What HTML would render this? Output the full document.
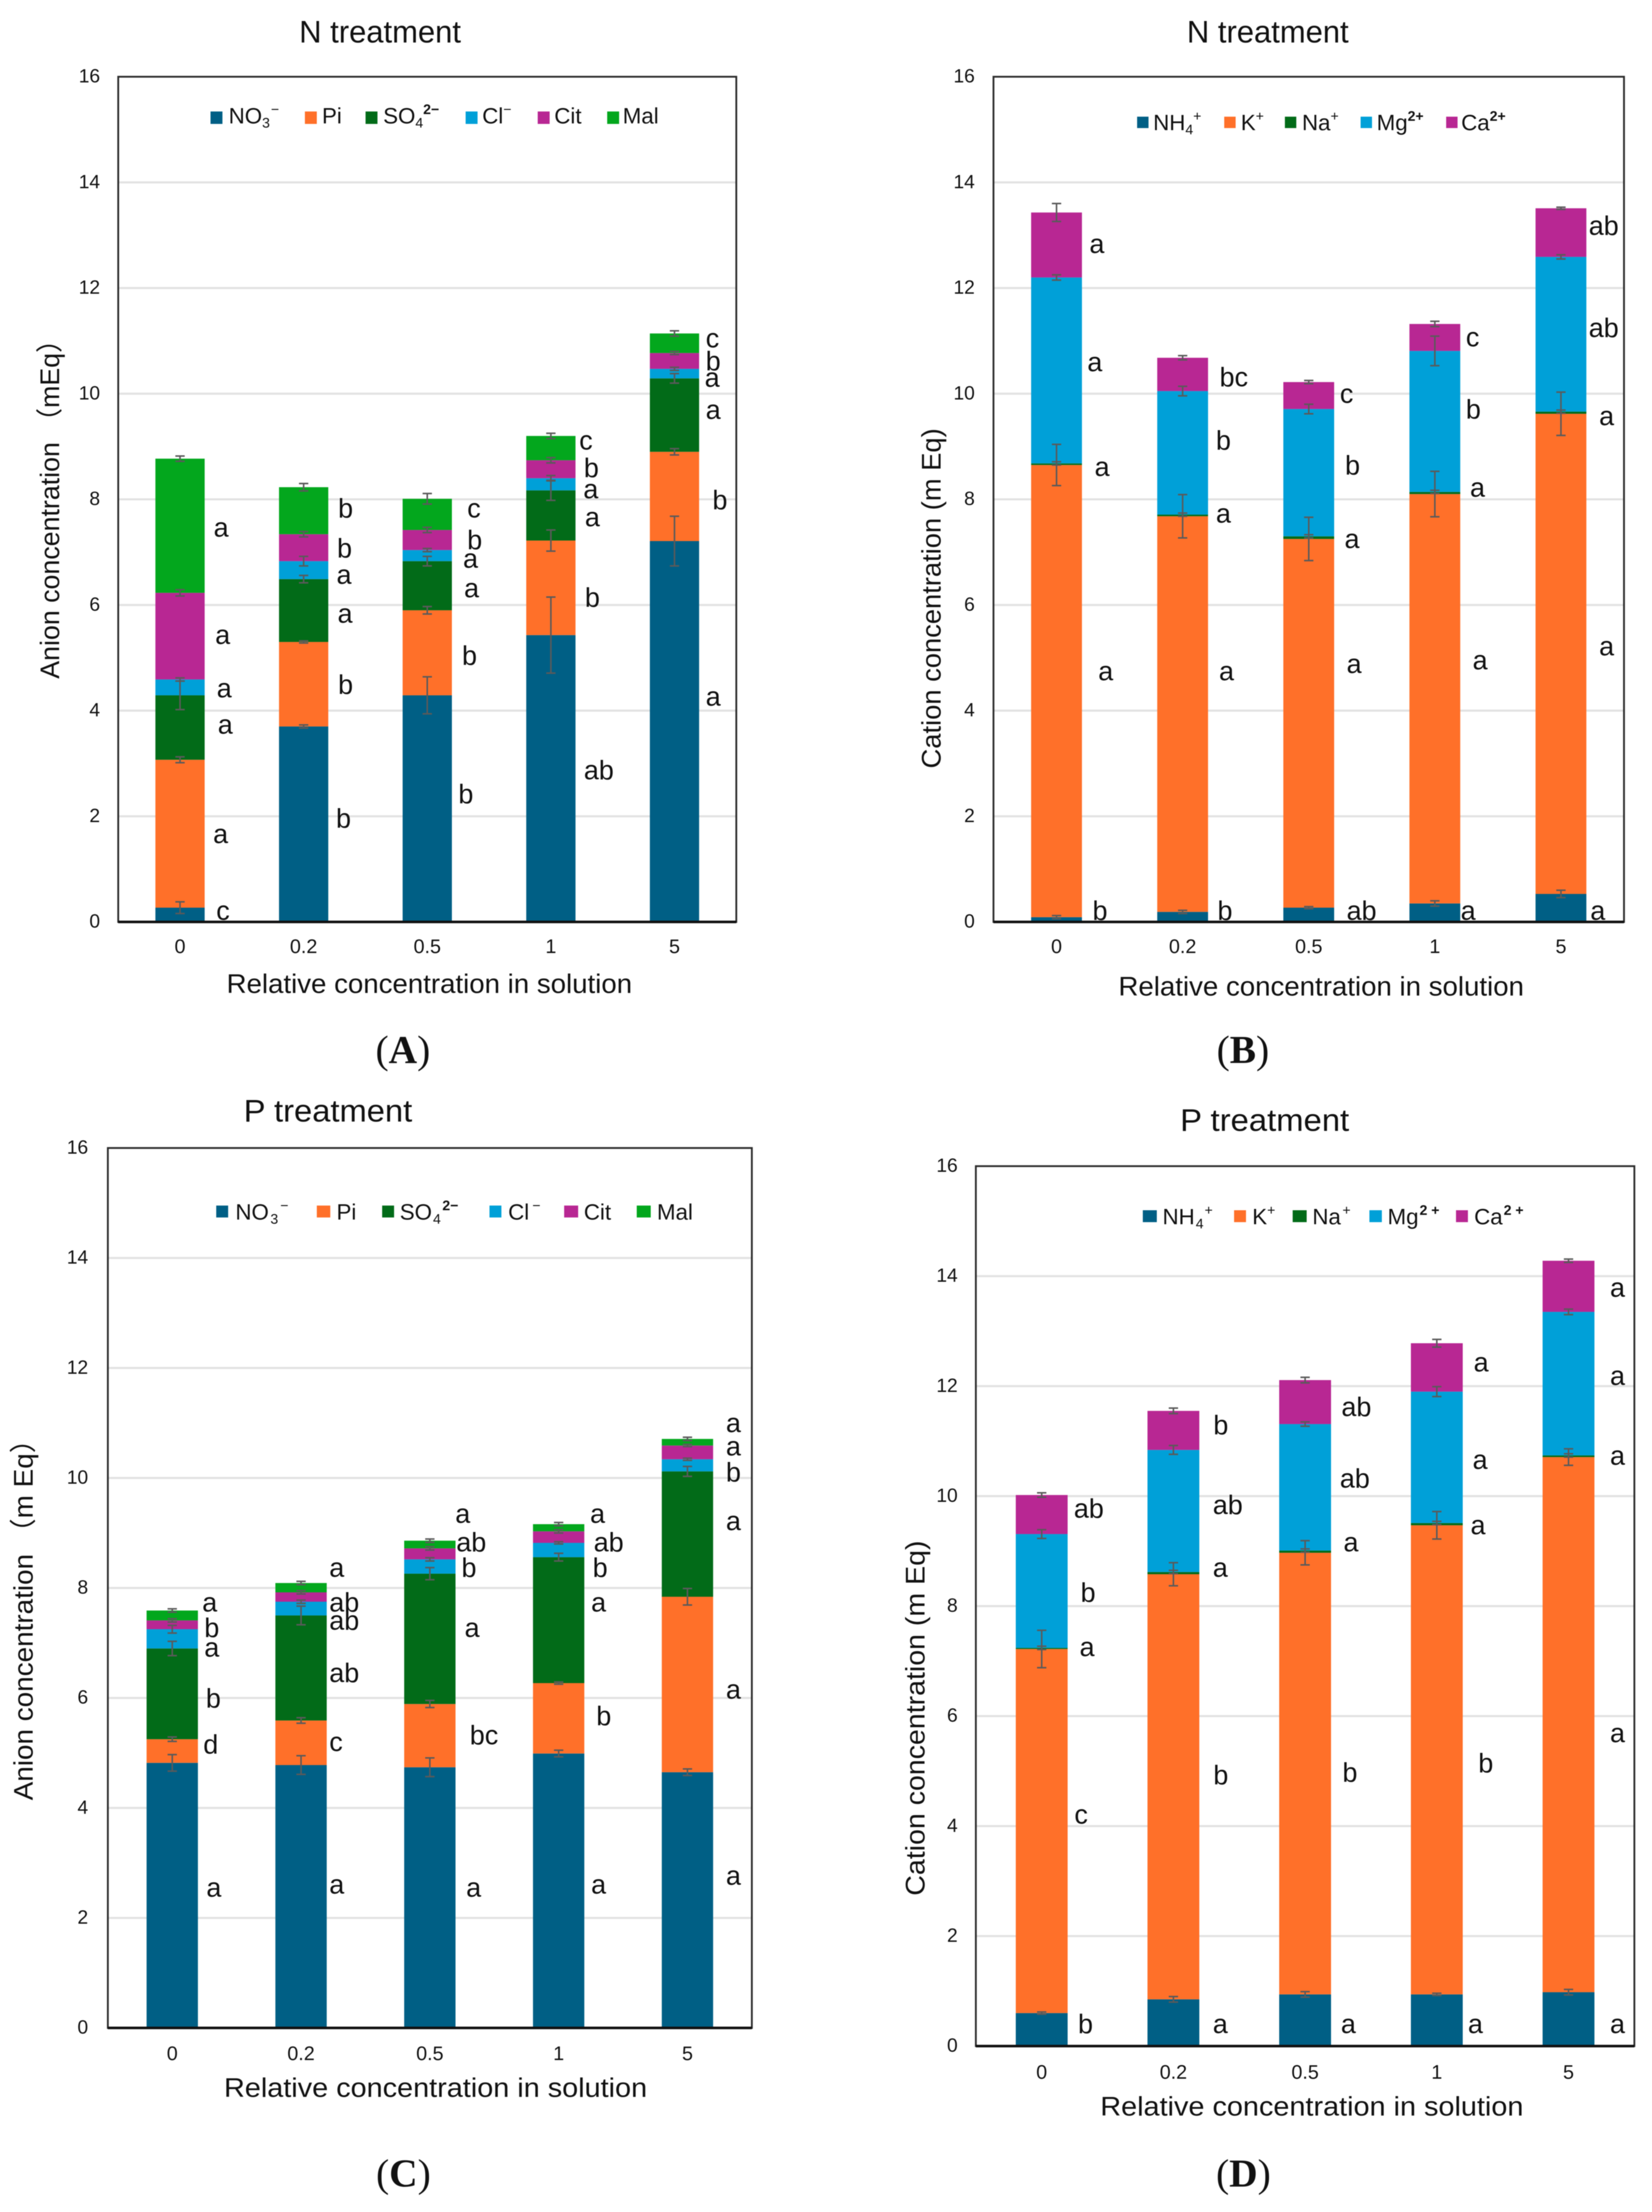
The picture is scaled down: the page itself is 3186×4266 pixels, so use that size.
<!DOCTYPE html>
<html lang="en">
<head>
<meta charset="utf-8">
<title>Anion and cation concentration under N and P treatments</title>
<style>
  html, body { margin: 0; padding: 0; background: #fff; }
  svg { display: block; filter: blur(0.7px); }
  text { font-family: "Liberation Sans", "Noto Sans CJK SC", sans-serif; fill: #111; }
  .title { font-size: 60px; }
  .axis-title { font-size: 52px; }
  .legend-text { font-size: 43px; }
  .legend-text tspan { font-size: 27px; }
  .sig { font-size: 52px; }
  .panel-label { font-family: "Liberation Serif", serif; font-size: 76px; text-anchor: middle; }
  .panel-label tspan { font-weight: bold; }
</style>
</head>
<body>
<svg id="figure" xmlns="http://www.w3.org/2000/svg" width="3186" height="4266" viewBox="0 0 3186 4266">
  <rect width="3186" height="4266" fill="#ffffff"/>
  <g id="plots"></g>

  <!-- Titles -->
  <text class="title" x="577" y="82" textLength="312" lengthAdjust="spacingAndGlyphs">N treatment</text>
  <text class="title" x="2289" y="82" textLength="312" lengthAdjust="spacingAndGlyphs">N treatment</text>
  <text class="title" x="470" y="2163" textLength="325" lengthAdjust="spacingAndGlyphs">P treatment</text>
  <text class="title" x="2276" y="2181" textLength="326" lengthAdjust="spacingAndGlyphs">P treatment</text>

  <!-- Axis titles -->
  <text class="axis-title" transform="translate(114,1309) rotate(-90)" textLength="680" lengthAdjust="spacingAndGlyphs">Anion concentration （mEq）</text>
  <text class="axis-title" transform="translate(1814,1482) rotate(-90)" textLength="656" lengthAdjust="spacingAndGlyphs">Cation concentration (m Eq)</text>
  <text class="axis-title" transform="translate(63,3472) rotate(-90)" textLength="723" lengthAdjust="spacingAndGlyphs">Anion concentration （m Eq）</text>
  <text class="axis-title" transform="translate(1783,3656) rotate(-90)" textLength="685" lengthAdjust="spacingAndGlyphs">Cation concentration (m Eq)</text>
  <text class="axis-title" x="437" y="1915" textLength="782" lengthAdjust="spacingAndGlyphs">Relative concentration in solution</text>
  <text class="axis-title" x="2157" y="1920" textLength="782" lengthAdjust="spacingAndGlyphs">Relative concentration in solution</text>
  <text class="axis-title" x="432" y="4044" textLength="816" lengthAdjust="spacingAndGlyphs">Relative concentration in solution</text>
  <text class="axis-title" x="2122" y="4080" textLength="816" lengthAdjust="spacingAndGlyphs">Relative concentration in solution</text>

  <!-- Panel labels -->
  <text class="panel-label" x="777" y="2050">(<tspan>A</tspan>)</text>
  <text class="panel-label" x="2397" y="2050">(<tspan>B</tspan>)</text>
  <text class="panel-label" x="778" y="4217">(<tspan>C</tspan>)</text>
  <text class="panel-label" x="2398" y="4217">(<tspan>D</tspan>)</text>

  <!-- Legend A -->
  <g>
    <rect x="406" y="215" width="23" height="24" fill="#005F85"/>
    <text class="legend-text" x="441" y="238">NO<tspan dy="8">3</tspan><tspan dy="-26" dx="2">−</tspan></text>
    <rect x="588" y="215" width="23" height="24" fill="#FF7029"/>
    <text class="legend-text" x="621" y="238">Pi</text>
    <rect x="705" y="215" width="23" height="24" fill="#026B18"/>
    <text class="legend-text" x="739" y="238">SO<tspan dy="8">4</tspan><tspan dy="-26" font-weight="bold">2−</tspan></text>
    <rect x="898" y="215" width="23" height="24" fill="#00A0D8"/>
    <text class="legend-text" x="930" y="238">Cl<tspan dy="-18">−</tspan></text>
    <rect x="1037" y="215" width="23" height="24" fill="#B82793"/>
    <text class="legend-text" x="1069" y="238">Cit</text>
    <rect x="1171" y="215" width="23" height="24" fill="#03A71D"/>
    <text class="legend-text" x="1201" y="238">Mal</text>
  </g>

  <!-- Legend B -->
  <g>
    <rect x="2193" y="225" width="22" height="22" fill="#005F85"/>
    <text class="legend-text" x="2224" y="251">NH<tspan dy="8">4</tspan><tspan dy="-26">+</tspan></text>
    <rect x="2361" y="225" width="22" height="22" fill="#FF7029"/>
    <text class="legend-text" x="2393" y="251">K<tspan dy="-18">+</tspan></text>
    <rect x="2478" y="225" width="22" height="22" fill="#026B18"/>
    <text class="legend-text" x="2511" y="251">Na<tspan dy="-18">+</tspan></text>
    <rect x="2624" y="225" width="22" height="22" fill="#00A0D8"/>
    <text class="legend-text" x="2655" y="251">Mg<tspan dy="-18" font-weight="bold">2+</tspan></text>
    <rect x="2789" y="225" width="22" height="22" fill="#B82793"/>
    <text class="legend-text" x="2818" y="251">Ca<tspan dy="-18" font-weight="bold">2+</tspan></text>
  </g>

  <!-- Legend C -->
  <g>
    <rect x="417" y="2325" width="23" height="23" fill="#005F85"/>
    <text class="legend-text" x="454" y="2352">NO<tspan dy="8" dx="3">3</tspan><tspan dy="-26" dx="4">−</tspan></text>
    <rect x="611" y="2325" width="26" height="23" fill="#FF7029"/>
    <text class="legend-text" x="649" y="2352">Pi</text>
    <rect x="737" y="2325" width="23" height="23" fill="#026B18"/>
    <text class="legend-text" x="771" y="2352">SO<tspan dy="8" dx="2">4</tspan><tspan dy="-26" dx="3" font-weight="bold">2−</tspan></text>
    <rect x="944" y="2325" width="23" height="23" fill="#00A0D8"/>
    <text class="legend-text" x="980" y="2352">Cl<tspan dy="-18" dx="6">−</tspan></text>
    <rect x="1088" y="2325" width="27" height="23" fill="#B82793"/>
    <text class="legend-text" x="1126" y="2352">Cit</text>
    <rect x="1228" y="2325" width="27" height="23" fill="#03A71D"/>
    <text class="legend-text" x="1267" y="2352">Mal</text>
  </g>

  <!-- Legend D -->
  <g>
    <rect x="2204" y="2334" width="27" height="23" fill="#005F85"/>
    <text class="legend-text" x="2242" y="2361">NH<tspan dy="8" dx="2">4</tspan><tspan dy="-26" dx="2">+</tspan></text>
    <rect x="2380" y="2334" width="23" height="23" fill="#FF7029"/>
    <text class="legend-text" x="2415" y="2361">K<tspan dy="-18">+</tspan></text>
    <rect x="2493" y="2334" width="27" height="23" fill="#026B18"/>
    <text class="legend-text" x="2531" y="2361">Na<tspan dy="-18" dx="3">+</tspan></text>
    <rect x="2641" y="2334" width="24" height="23" fill="#00A0D8"/>
    <text class="legend-text" x="2676" y="2361">Mg<tspan dy="-18" font-weight="bold" dx="2">2 +</tspan></text>
    <rect x="2808" y="2334" width="23" height="23" fill="#B82793"/>
    <text class="legend-text" x="2843" y="2361">Ca<tspan dy="-18" font-weight="bold" dx="2">2 +</tspan></text>
  </g>

  <!-- Significance letters A -->
  <g>
    <text class="sig" x="417" y="1774">c</text>
    <text class="sig" x="411" y="1626">a</text>
    <text class="sig" x="420" y="1415">a</text>
    <text class="sig" x="418" y="1345">a</text>
    <text class="sig" x="415" y="1242">a</text>
    <text class="sig" x="412" y="1035">a</text>
    <text class="sig" x="648" y="1596">b</text>
    <text class="sig" x="652" y="1338">b</text>
    <text class="sig" x="651" y="1201">a</text>
    <text class="sig" x="649" y="1126">a</text>
    <text class="sig" x="650" y="1075">b</text>
    <text class="sig" x="652" y="998">b</text>
    <text class="sig" x="884" y="1549">b</text>
    <text class="sig" x="891" y="1282">b</text>
    <text class="sig" x="895" y="1152">a</text>
    <text class="sig" x="893" y="1095">a</text>
    <text class="sig" x="901" y="1059">b</text>
    <text class="sig" x="901" y="998">c</text>
    <text class="sig" x="1126" y="1503">ab</text>
    <text class="sig" x="1128" y="1170">b</text>
    <text class="sig" x="1128" y="1015">a</text>
    <text class="sig" x="1125" y="961">a</text>
    <text class="sig" x="1126" y="920">b</text>
    <text class="sig" x="1117" y="867">c</text>
    <text class="sig" x="1361" y="1361">a</text>
    <text class="sig" x="1374" y="982">b</text>
    <text class="sig" x="1361" y="808">a</text>
    <text class="sig" x="1359" y="746">a</text>
    <text class="sig" x="1361" y="714">b</text>
    <text class="sig" x="1361" y="670">c</text>
  </g>

  <!-- Significance letters B -->
  <g>
    <text class="sig" x="2107" y="1774">b</text>
    <text class="sig" x="2118" y="1312">a</text>
    <text class="sig" x="2111" y="918">a</text>
    <text class="sig" x="2097" y="716">a</text>
    <text class="sig" x="2101" y="488">a</text>
    <text class="sig" x="2348" y="1774">b</text>
    <text class="sig" x="2351" y="1312">a</text>
    <text class="sig" x="2345" y="1008">a</text>
    <text class="sig" x="2345" y="867">b</text>
    <text class="sig" x="2352" y="745">bc</text>
    <text class="sig" x="2597" y="1774">ab</text>
    <text class="sig" x="2597" y="1298">a</text>
    <text class="sig" x="2593" y="1057">a</text>
    <text class="sig" x="2594" y="915">b</text>
    <text class="sig" x="2584" y="777">c</text>
    <text class="sig" x="2817" y="1774">a</text>
    <text class="sig" x="2840" y="1291">a</text>
    <text class="sig" x="2835" y="958">a</text>
    <text class="sig" x="2827" y="807">b</text>
    <text class="sig" x="2827" y="668">c</text>
    <text class="sig" x="3067" y="1774">a</text>
    <text class="sig" x="3084" y="1264">a</text>
    <text class="sig" x="3084" y="820">a</text>
    <text class="sig" x="3064" y="650">ab</text>
    <text class="sig" x="3064" y="453">ab</text>
  </g>

  <!-- Significance letters C -->
  <g>
    <text class="sig" x="398" y="3658">a</text>
    <text class="sig" x="392" y="3382">d</text>
    <text class="sig" x="397" y="3293">b</text>
    <text class="sig" x="394" y="3195">a</text>
    <text class="sig" x="394" y="3157">b</text>
    <text class="sig" x="390" y="3108">a</text>
    <text class="sig" x="635" y="3652">a</text>
    <text class="sig" x="635" y="3377">c</text>
    <text class="sig" x="635" y="3244">ab</text>
    <text class="sig" x="635" y="3143">ab</text>
    <text class="sig" x="635" y="3108">ab</text>
    <text class="sig" x="635" y="3041">a</text>
    <text class="sig" x="899" y="3658">a</text>
    <text class="sig" x="906" y="3364">bc</text>
    <text class="sig" x="896" y="3157">a</text>
    <text class="sig" x="890" y="3041">b</text>
    <text class="sig" x="880" y="2992">ab</text>
    <text class="sig" x="878" y="2937">a</text>
    <text class="sig" x="1140" y="3652">a</text>
    <text class="sig" x="1150" y="3327">b</text>
    <text class="sig" x="1140" y="3108">a</text>
    <text class="sig" x="1143" y="3041">b</text>
    <text class="sig" x="1145" y="2992">ab</text>
    <text class="sig" x="1138" y="2937">a</text>
    <text class="sig" x="1400" y="3635">a</text>
    <text class="sig" x="1400" y="3276">a</text>
    <text class="sig" x="1400" y="2951">a</text>
    <text class="sig" x="1400" y="2857">b</text>
    <text class="sig" x="1400" y="2807">a</text>
    <text class="sig" x="1400" y="2762">a</text>
  </g>

  <!-- Significance letters D -->
  <g>
    <text class="sig" x="2079" y="3921">b</text>
    <text class="sig" x="2072" y="3517">c</text>
    <text class="sig" x="2082" y="3194">a</text>
    <text class="sig" x="2084" y="3089">b</text>
    <text class="sig" x="2071" y="2927">ab</text>
    <text class="sig" x="2339" y="3921">a</text>
    <text class="sig" x="2340" y="3441">b</text>
    <text class="sig" x="2339" y="3041">a</text>
    <text class="sig" x="2339" y="2920">ab</text>
    <text class="sig" x="2340" y="2766">b</text>
    <text class="sig" x="2586" y="3921">a</text>
    <text class="sig" x="2589" y="3436">b</text>
    <text class="sig" x="2591" y="2992">a</text>
    <text class="sig" x="2584" y="2869">ab</text>
    <text class="sig" x="2587" y="2731">ab</text>
    <text class="sig" x="2831" y="3921">a</text>
    <text class="sig" x="2851" y="3418">b</text>
    <text class="sig" x="2836" y="2959">a</text>
    <text class="sig" x="2840" y="2833">a</text>
    <text class="sig" x="2842" y="2645">a</text>
    <text class="sig" x="3105" y="3921">a</text>
    <text class="sig" x="3105" y="3360">a</text>
    <text class="sig" x="3105" y="2825">a</text>
    <text class="sig" x="3105" y="2671">a</text>
    <text class="sig" x="3105" y="2501">a</text>
  </g>
</svg>

<script>
// ---- Shared axis data ----
const categories = ['0', '0.2', '0.5', '1', '5'];
const yTickValues = [0, 2, 4, 6, 8, 10, 12, 14, 16];

// ---- Panel A: anions, N treatment (segment heights, mEq) ----
const aNO3 = [0.27, 3.70, 4.29, 5.43, 7.21];
const aPi  = [2.80, 1.60, 1.61, 1.79, 1.69];
const aSO4 = [1.22, 1.19, 0.93, 0.95, 1.39];
const aCl  = [0.30, 0.34, 0.21, 0.23, 0.18];
const aCit = [1.64, 0.51, 0.38, 0.34, 0.30];
const aMal = [2.54, 0.89, 0.59, 0.46, 0.37];
const aNO3Err = [0.11, 0.03, 0.35, 0.72, 0.47];
const aPiErr  = [0.055, 0.02, 0.07, 0.20, 0.06];
const aSO4Err = [0.27, 0.07, 0.09, 0.19, 0.09];
const aClErr  = [0.03, 0.09, 0.03, 0.05, 0.03];
const aCitErr = [0.06, 0.05, 0.05, 0.05, 0.03];
const aMalErr = [0.05, 0.07, 0.10, 0.05, 0.05];

// ---- Panel B: cations, N treatment ----
const bNH4 = [0.09, 0.19, 0.27, 0.35, 0.53];
const bK   = [8.56, 7.49, 6.98, 7.75, 9.09];
const bNa  = [0.03, 0.03, 0.05, 0.04, 0.04];
const bMg  = [3.52, 2.34, 2.41, 2.67, 2.93];
const bCa  = [1.23, 0.63, 0.51, 0.51, 0.92];
const bNH4Err = [0.03, 0.03, 0.02, 0.05, 0.07];
const bKErr   = [0.39, 0.41, 0.41, 0.43, 0.41];
const bNaErr  = [0.03, 0.03, 0.03, 0.03, 0.03];
const bMgErr  = [0.05, 0.09, 0.09, 0.28, 0.04];
const bCaErr  = [0.17, 0.04, 0.03, 0.05, 0.02];

// ---- Panel C: anions, P treatment ----
const cNO3 = [4.82, 4.78, 4.74, 4.99, 4.65];
const cPi  = [0.43, 0.81, 1.15, 1.28, 3.19];
const cSO4 = [1.65, 1.91, 2.37, 2.29, 2.28];
const cCl  = [0.35, 0.25, 0.26, 0.26, 0.22];
const cCit = [0.16, 0.17, 0.20, 0.21, 0.25];
const cMal = [0.18, 0.17, 0.14, 0.13, 0.12];
const cNO3Err = [0.15, 0.17, 0.17, 0.06, 0.06];
const cPiErr  = [0.04, 0.05, 0.065, 0.02, 0.15];
const cSO4Err = [0.13, 0.17, 0.11, 0.07, 0.09];
const cClErr  = [0.07, 0.03, 0.03, 0.02, 0.02];
const cCitErr = [0.03, 0.03, 0.03, 0.03, 0.02];
const cMalErr = [0.03, 0.03, 0.03, 0.03, 0.03];

// ---- Panel D: cations, P treatment ----
const dNH4 = [0.60, 0.85, 0.94, 0.94, 0.98];
const dK   = [6.62, 7.73, 8.03, 8.53, 9.73];
const dNa  = [0.02, 0.04, 0.04, 0.04, 0.03];
const dMg  = [2.07, 2.22, 2.30, 2.39, 2.61];
const dCa  = [0.71, 0.71, 0.80, 0.88, 0.93];
const dNH4Err = [0.02, 0.05, 0.05, 0.02, 0.05];
const dKErr   = [0.34, 0.21, 0.22, 0.25, 0.15];
const dNaErr  = [0.03, 0.03, 0.03, 0.03, 0.03];
const dMgErr  = [0.08, 0.08, 0.04, 0.09, 0.05];
const dCaErr  = [0.04, 0.05, 0.05, 0.07, 0.03];

// ---- Series colours ----
const C_BLUE = '#005F85', C_ORANGE = '#FF7029', C_DARKGREEN = '#026B18',
      C_CYAN = '#00A0D8', C_PURPLE = '#B82793', C_GREEN = '#03A71D';

// ---- Panels: plot box plus references to the named arrays ----
const panels = [
  { id: 'a', left: 228, right: 1420, top: 148, bottom: 1778, barW: 95, yLabelX: 193, xLabelY: 1838,
    series: [
      ['no3', aNO3, aNO3Err, C_BLUE], ['pi', aPi, aPiErr, C_ORANGE], ['so4', aSO4, aSO4Err, C_DARKGREEN],
      ['cl', aCl, aClErr, C_CYAN], ['cit', aCit, aCitErr, C_PURPLE], ['mal', aMal, aMalErr, C_GREEN] ] },
  { id: 'b', left: 1916, right: 3132, top: 148, bottom: 1778, barW: 98, yLabelX: 1880, xLabelY: 1838,
    series: [
      ['nh4', bNH4, bNH4Err, C_BLUE], ['k', bK, bKErr, C_ORANGE], ['na', bNa, bNaErr, C_DARKGREEN],
      ['mg', bMg, bMgErr, C_CYAN], ['ca', bCa, bCaErr, C_PURPLE] ] },
  { id: 'c', left: 208, right: 1450, top: 2214, bottom: 3911, barW: 99, yLabelX: 170, xLabelY: 3973,
    series: [
      ['no3', cNO3, cNO3Err, C_BLUE], ['pi', cPi, cPiErr, C_ORANGE], ['so4', cSO4, cSO4Err, C_DARKGREEN],
      ['cl', cCl, cClErr, C_CYAN], ['cit', cCit, cCitErr, C_PURPLE], ['mal', cMal, cMalErr, C_GREEN] ] },
  { id: 'd', left: 1882, right: 3152, top: 2249, bottom: 3946, barW: 100, yLabelX: 1847, xLabelY: 4009,
    series: [
      ['nh4', dNH4, dNH4Err, C_BLUE], ['k', dK, dKErr, C_ORANGE], ['na', dNa, dNaErr, C_DARKGREEN],
      ['mg', dMg, dMgErr, C_CYAN], ['ca', dCa, dCaErr, C_PURPLE] ] }
];

const SVG_NS = 'http://www.w3.org/2000/svg';
const Y_MAX = 16;

function make(tag, attrs, parent) {
  const node = document.createElementNS(SVG_NS, tag);
  Object.keys(attrs).forEach(function (k) { node.setAttribute(k, attrs[k]); });
  parent.appendChild(node);
  return node;
}

function drawPanel(p) {
  const root = document.getElementById('plots');
  const yScale = function (v) { return p.bottom - (v / Y_MAX) * (p.bottom - p.top); };
  const band = (p.right - p.left) / categories.length;
  const xScale = function (i) { return p.left + band * (i + 0.5); };

  const group = make('g', {}, root);
  
  

  // Gridlines and y tick labels
  yTickValues.forEach(function (t) {
    if (t > 0 && t < Y_MAX) {
      const grid = make('line', { x1: p.left, x2: p.right, y1: yScale(t), y2: yScale(t), stroke: '#e2e2e2', 'stroke-width': 4 }, group);
      
      
    }
    const label = make('text', { x: p.yLabelX, y: yScale(t) + 11, 'text-anchor': 'end', 'font-size': 37 }, group);
    
    
    label.textContent = String(t);
  });

  // X tick labels
  categories.forEach(function (c, i) {
    const label = make('text', { x: xScale(i), y: p.xLabelY, 'text-anchor': 'middle', 'font-size': 38 }, group);
    
    
    label.textContent = c;
  });

  // Stacked bars
  const running = categories.map(function () { return 0; });
  const errorSpecs = [];
  p.series.forEach(function (s) {
    const key = s[0], values = s[1], errors = s[2], colour = s[3];
    values.forEach(function (v, i) {
      const base = running[i];
      const top = base + v;
      const bar = make('rect', {
        x: xScale(i) - p.barW / 2,
        y: yScale(top),
        width: p.barW,
        height: yScale(base) - yScale(top),
        fill: colour
      }, group);
      
      
      running[i] = top;
      errorSpecs.push([key, i, top, errors[i]]);
    });
  });

  // Error bars
  errorSpecs.forEach(function (e) {
    const cx = xScale(e[1]);
    const hi = yScale(e[2] + e[3]);
    const lo = yScale(e[2] - e[3]);
    const whisker = make('path', {
      d: 'M' + (cx - 9) + ' ' + hi + 'H' + (cx + 9) + 'M' + cx + ' ' + hi + 'V' + lo + 'M' + (cx - 9) + ' ' + lo + 'H' + (cx + 9),
      fill: 'none', stroke: '#5a5a5a', 'stroke-width': 3
    }, group);
    
    
  });

  // Plot frame
  const frame = make('rect', {
    x: p.left, y: p.top, width: p.right - p.left, height: p.bottom - p.top,
    fill: 'none', stroke: '#2b2b2b', 'stroke-width': 3.5
  }, group);
  
  

  const baseline = make('line', { x1: p.left, x2: p.right, y1: p.bottom, y2: p.bottom, stroke: '#111', 'stroke-width': 5 }, group);
  
  
}

panels.forEach(drawPanel);
</script>
</body>
</html>
